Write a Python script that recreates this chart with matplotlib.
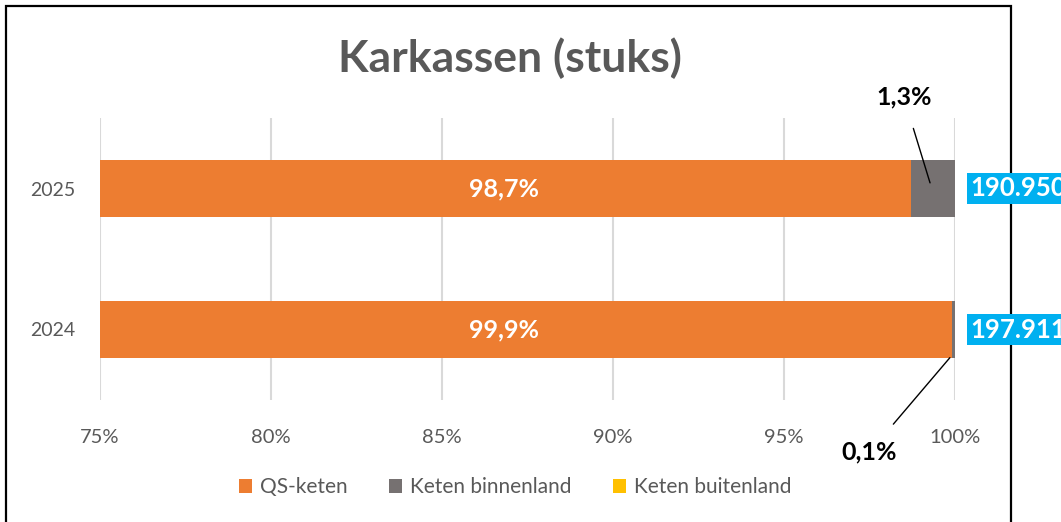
import matplotlib
matplotlib.use("Agg")
import matplotlib.pyplot as plt
from matplotlib.patches import Rectangle
import numpy as np

plt.rcParams['font.family'] = ['Lato', 'DejaVu Sans']

years = ["2024", "2025"]
qs_keten = [99.9, 98.7]
keten_binnenland = [0.1, 1.3]
keten_buitenland = [0.0, 0.0]
totals = ["197.911", "190.950"]
qs_labels = ["99,9%", "98,7%"]
binnen_labels = ["0,1%", "1,3%"]
xticks = [75, 80, 85, 90, 95, 100]
xtick_labels = ["75%", "80%", "85%", "90%", "95%", "100%"]

c_qs = "#ED7D31"
c_bin = "#767171"
c_bui = "#FFC000"
c_txt = "#595959"

fig = plt.figure(figsize=(10.61, 5.22), dpi=100)
ax = fig.add_axes([100/1061, 1-400/522, 855/1061, 282/522])
ax.patch.set_visible(False)

y = np.arange(len(years))
h = 0.4
ax.barh(y, qs_keten, height=h, color=c_qs, label="QS-keten", zorder=3)
ax.barh(y, keten_binnenland, left=qs_keten, height=h, color=c_bin, label="Keten binnenland", zorder=3)
left3 = [a + b for a, b in zip(qs_keten, keten_binnenland)]
ax.barh(y, keten_buitenland, left=left3, height=h, color=c_bui, label="Keten buitenland", zorder=3)

ax.set_xlim(75, 100)
ax.set_ylim(-0.5, 1.5)
ax.set_xticks(xticks)
ax.set_xticklabels(xtick_labels, fontsize=14.5, color=c_txt)
ax.set_yticks(y)
ax.set_yticklabels(years, fontsize=14, color=c_txt)
ax.tick_params(axis='both', length=0)
ax.tick_params(axis='x', pad=21)
ax.tick_params(axis='y', pad=18)
ax.grid(axis='x', color="#D9D9D9", linewidth=1.5, zorder=0)
for s in ax.spines.values():
    s.set_visible(False)

# QS labels (white, bold)
for i in range(len(years)):
    ax.text(86.8, y[i], qs_labels[i], color="white", fontsize=18, fontweight="bold",
            ha="center", va="center", zorder=4)

# Binnenland labels with leader lines
ax.annotate(binnen_labels[1], xy=(99.27, y[1] + 0.04), xytext=(98.5, 1.65),
            fontsize=18, fontweight="bold", color="black", ha="center", va="center",
            annotation_clip=False,
            arrowprops=dict(arrowstyle="-", color="black", lw=1, shrinkA=13, shrinkB=0))
ax.annotate(binnen_labels[0], xy=(99.85, y[0] - 0.2), xytext=(97.5, -0.87),
            fontsize=18, fontweight="bold", color="black", ha="center", va="center",
            annotation_clip=False,
            arrowprops=dict(arrowstyle="-", color="black", lw=1, shrinkA=13, shrinkB=0))

# Totals in blue boxes
for i in range(len(years)):
    ax.text(100.45, y[i], totals[i], color="white", fontsize=18.5, fontweight="bold",
            ha="left", va="center", clip_on=False, zorder=5,
            bbox=dict(boxstyle="square,pad=0.12", facecolor="#00B0F0", edgecolor="none"))

fig.text(510/1061, 1-58/522, "Karkassen (stuks)", fontsize=32, fontweight="bold",
         color=c_txt, ha="center", va="center")

handles, labels = ax.get_legend_handles_labels()
leg = fig.legend(handles, labels, loc="center", bbox_to_anchor=(515/1061, 1-487/522),
                 ncol=3, frameon=False, fontsize=15, handlelength=0.65, handleheight=0.65,
                 columnspacing=2.0, handletextpad=0.35, labelcolor=c_txt)

border = Rectangle((6/1061, -0.05), (1011-6)/1061, 1.05 - 6/522,
                   transform=fig.transFigure, fill=False, edgecolor="black",
                   linewidth=1.6, zorder=-1)
fig.patches.append(border)

fig.savefig("out.png", dpi=100)
